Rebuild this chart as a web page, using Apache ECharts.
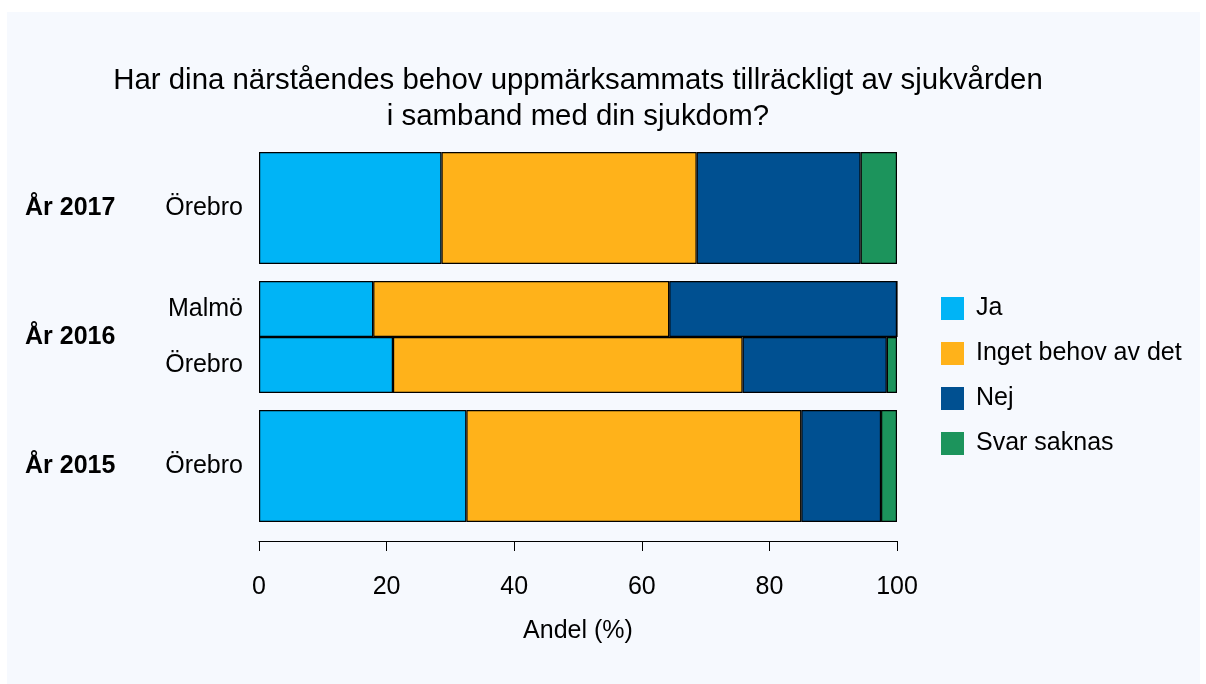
<!DOCTYPE html>
<html>
<head>
<meta charset="utf-8">
<script src="https://cdn.jsdelivr.net/npm/echarts@6/dist/echarts.min.js"></script>
<style>
  html, body { margin: 0; padding: 0; background: #ffffff; }
  #chart { width: 1206px; height: 684px; }
</style>
</head>
<body>
<div id="chart"></div>
<script>
// Survey answers per year and hospital, shares in percent
const years = ['År 2017', 'År 2016', 'År 2015'];
const sites = [['Örebro'], ['Malmö', 'Örebro'], ['Örebro']];
const responses = ['Ja', 'Inget behov av det', 'Nej', 'Svar saknas'];
const ja = [[28.6], [17.9, 21.0], [32.5]];
const ingetBehov = [[40.0], [46.4, 54.8], [52.5]];
const nej = [[25.7], [35.7, 22.6], [12.5]];
const svarSaknas = [[5.7], [0, 1.6], [2.5]];
const xTicks = [0, 20, 40, 60, 80, 100];

const colors = ['#00B4F6', '#FFB21A', '#005091', '#1C945C'];
const font = 'Liberation Sans, Arial, Helvetica, sans-serif';
const fs = 25;
const values = [ja, ingetBehov, nej, svarSaknas];

// one grid per year block, bars fill their band completely
const gridTops = [152, 281, 410];
const gridHeights = [112, 112, 112];

const grids = [], xAxes = [], yAxes = [], series = [];
years.forEach((year, g) => {
  grids.push({ left: 259, right: 309, top: gridTops[g], height: gridHeights[g], containLabel: false });
  const last = g === years.length - 1;
  xAxes.push({
    type: 'value', gridIndex: g, min: xTicks[0], max: xTicks[xTicks.length - 1],
    interval: xTicks[1] - xTicks[0],
    show: last,
    position: 'bottom', offset: 19,
    splitLine: { show: false },
    axisLine: { show: true, lineStyle: { color: '#000', width: 1 } },
    axisTick: { show: true, length: 10, inside: false, lineStyle: { color: '#000', width: 1 } },
    axisLabel: { show: true, margin: 34, fontSize: fs, color: '#000', fontFamily: font },
    name: last ? 'Andel (%)' : '',
    nameLocation: 'middle', nameGap: 78,
    nameTextStyle: { fontSize: fs, color: '#000', fontFamily: font, verticalAlign: 'top' }
  });
  yAxes.push({
    type: 'category', gridIndex: g, data: sites[g], inverse: true,
    axisLine: { show: false }, axisTick: { show: false }, splitLine: { show: false },
    axisLabel: { margin: 16, fontSize: fs, color: '#000', fontFamily: font }
  });
  yAxes.push({
    type: 'category', gridIndex: g, data: [year], position: 'left',
    axisLine: { show: false }, axisTick: { show: false }, splitLine: { show: false },
    axisLabel: { margin: 234, align: 'left', fontSize: fs, fontWeight: 'bold', color: '#000', fontFamily: font }
  });
  responses.forEach((resp, r) => {
    series.push({
      name: resp, type: 'bar', stack: 'year' + g,
      xAxisIndex: g, yAxisIndex: g * 2,
      barWidth: '100%',
      itemStyle: { color: colors[r], borderColor: '#000', borderWidth: 1.2 },
      emphasis: { disabled: true },
      data: values[r][g]
    });
  });
});

const chart = echarts.init(document.getElementById('chart'), null, { renderer: 'canvas' });
chart.setOption({
  animation: false,
  backgroundColor: '#ffffff',
  color: colors,
  graphic: [{
    type: 'rect', z: -10, silent: true,
    shape: { x: 7, y: 12, width: 1193, height: 672 },
    style: { fill: '#F6F9FE' }
  }],
  title: {
    text: 'Har dina närståendes behov uppmärksammats tillräckligt av sjukvården\ni samband med din sjukdom?',
    left: 578, top: 63, textAlign: 'center', padding: 0,
    textStyle: { fontSize: 29.4, fontWeight: 'normal', color: '#000', lineHeight: 36, fontFamily: font }
  },
  legend: {
    data: responses,
    orient: 'vertical', left: 941, top: 296, padding: 0,
    itemWidth: 23, itemHeight: 23, itemGap: 20, icon: 'rect',
    selectedMode: false,
    itemStyle: { borderWidth: 0 },
    textStyle: { fontSize: fs, lineHeight: 23, color: '#000', fontFamily: font, padding: [0, 0, 0, 7] }
  },
  grid: grids,
  xAxis: xAxes,
  yAxis: yAxes,
  series: series
});
</script>
</body>
</html>
